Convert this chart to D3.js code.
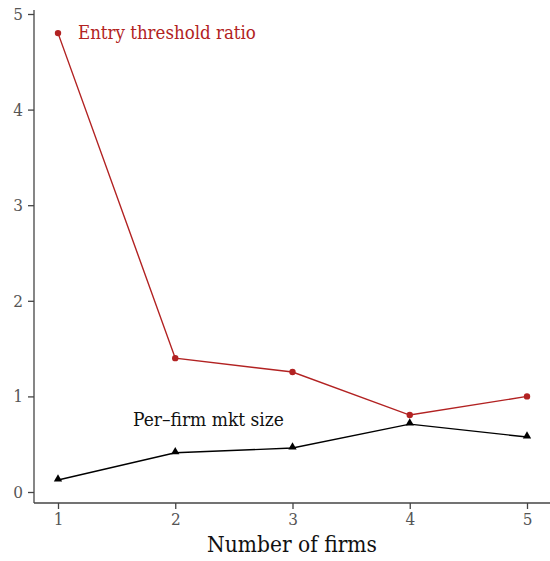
<!DOCTYPE html>
<html>
<head>
<meta charset="utf-8">
<script src="https://cdn.jsdelivr.net/npm/d3@7"></script>
<style>
  html, body { margin: 0; padding: 0; background: #fff; }
  svg { display: block; }
</style>
</head>
<body>
<svg id="chart" width="550" height="561"></svg>
<script>
// Number of firms in the market
const firms = [1, 2, 3, 4, 5];
// Ratio of successive entry thresholds
const entryRatio = [4.8, 1.4, 1.255, 0.805, 1.0];
// Market size per firm
const perFirmSize = [0.125, 0.41, 0.46, 0.71, 0.575];
const yTicks = [0, 1, 2, 3, 4, 5];

const svg = d3.select("#chart");
const font = "'DejaVu Serif Condensed', 'DejaVu Serif', serif";
const red = "#b22222";

const x = d3.scaleLinear().domain([1, 5]).range([58, 527]);
const y = d3.scaleLinear().domain([0, 5]).range([492, 14]);

const axisX0 = 34, axisY0 = 503;

// axes lines
svg.append("line").attr("x1", axisX0).attr("x2", 550).attr("y1", axisY0).attr("y2", axisY0)
  .attr("stroke", "#444").attr("stroke-width", 1.3);
svg.append("line").attr("x1", axisX0).attr("x2", axisX0).attr("y1", 10).attr("y2", axisY0)
  .attr("stroke", "#444").attr("stroke-width", 1.3);

const yAxis = svg.append("g").attr("transform", `translate(${axisX0},0)`)
  .call(d3.axisLeft(y).tickValues(yTicks).tickSize(6).tickPadding(5).tickFormat(d3.format("d")));
yAxis.select(".domain").remove();

const xAxis = svg.append("g").attr("transform", `translate(0,${axisY0})`)
  .call(d3.axisBottom(x).tickValues(firms).tickSize(6).tickPadding(4).tickFormat(d3.format("d")));
xAxis.select(".domain").remove();

[yAxis, xAxis].forEach(g => {
  g.selectAll(".tick line").attr("stroke", "#444").attr("stroke-width", 1.3);
  g.selectAll(".tick text").attr("fill", "#555").attr("font-family", font).attr("font-size", 17);
});

// axis title
svg.append("text").attr("x", 292).attr("y", 552).attr("text-anchor", "middle")
  .attr("font-family", font).attr("font-size", 22.5).attr("fill", "#111").text("Number of firms");

const line = d3.line().x((d, i) => x(firms[i])).y(d => y(d));

// entry threshold ratio series
svg.append("path").datum(entryRatio).attr("d", line)
  .attr("fill", "none").attr("stroke", red).attr("stroke-width", 1.4);
svg.append("g").selectAll("circle").data(entryRatio).join("circle")
  .attr("cx", (d, i) => x(firms[i])).attr("cy", d => y(d)).attr("r", 3.2).attr("fill", red);

// per-firm market size series
svg.append("path").datum(perFirmSize).attr("d", line)
  .attr("fill", "none").attr("stroke", "#000").attr("stroke-width", 1.4);
svg.append("g").selectAll("path.tri").data(perFirmSize).join("path").attr("class", "tri")
  .attr("d", d3.symbol(d3.symbolTriangle, 30))
  .attr("transform", (d, i) => `translate(${x(firms[i])},${y(d) - 1})`).attr("fill", "#000");

// series labels
svg.append("text").attr("x", 78).attr("y", 39).attr("font-family", font).attr("font-size", 18.5)
  .attr("fill", red).text("Entry threshold ratio");
svg.append("text").attr("x", 133).attr("y", 426).attr("font-family", font).attr("font-size", 19)
  .attr("fill", "#111").text("Per\u2013firm mkt size");
</script>
</body>
</html>
